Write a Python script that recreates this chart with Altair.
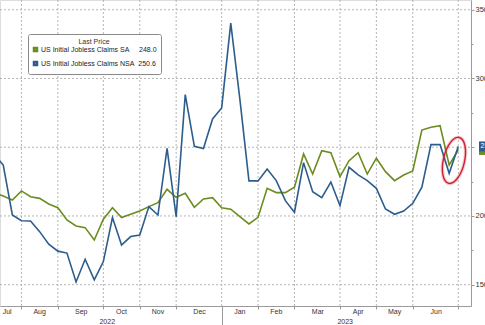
import altair as alt
import pandas as pd

# ---------------- data ----------------
first_week = "2022-07-09"          # weekly, week ending Saturday
n_weeks = 52

sa_values = [217, 214.5, 211.6, 218.2, 214, 212.8, 208.7, 206, 197.1, 192.7,
             191.5, 182.5, 197.6, 206, 198.8, 201.2, 203.6, 206.8, 209.7, 219.4,
             213.6, 216.5, 206.3, 212.4, 213.3, 206, 204.9, 199.5, 194.2, 199,
             220.1, 217, 217, 220.9, 245.1, 230.5, 247.5, 246, 228.6, 240.2,
             246, 230.5, 242, 232.2, 225.7, 229.8, 232.7, 262.5, 264.5, 265.7,
             237.1, 248.0]
nsa_values = [245, 237, 200.7, 196.5, 196.3, 188.6, 179.5, 174.4, 173, 152,
              168.5, 153.5, 166.8, 198.8, 178.9, 185, 186.2, 206.8, 200.7, 249.2,
              199.5, 288.3, 250.6, 249, 270.6, 278.6, 340.3, 285, 225.5, 225.5,
              234.2, 225.7, 211.1, 202.7, 238.8, 217.7, 213.3, 224.7, 207.5, 235.4,
              229.9, 225.7, 220.1, 205.1, 201.2, 203.6, 209.2, 221, 251.9, 251.9,
              231, 250.6]

series_names = ["US Initial Jobless Claims SA", "US Initial Jobless Claims NSA"]
series_colors = ["#6b8c1e", "#2c5d8c"]
last_prices = [248.0, 250.6]
last_price_text = ["248.0", "250.6"]

grid_dates = ["2022-07-30", "2022-08-27", "2022-10-01", "2022-10-29", "2022-11-26",
              "2022-12-31", "2023-01-28", "2023-02-25", "2023-04-01", "2023-04-29",
              "2023-05-27", "2023-07-01"]
month_labels = ["Jul", "Aug", "Sep", "Oct", "Nov", "Dec", "Jan", "Feb", "Mar",
                "Apr", "May", "Jun"]
month_label_dates = ["2022-07-19", "2022-08-13", "2022-09-14", "2022-10-15",
                     "2022-11-12", "2022-12-14", "2023-01-14", "2023-02-11",
                     "2023-03-15", "2023-04-15", "2023-05-13", "2023-06-14"]
year_labels = ["2022", "2023"]
year_label_dates = ["2022-10-04", "2023-04-05"]

y_ticks = [150, 175, 200, 225, 250, 275, 300, 325, 350]
y_grid = [150, 200, 250, 300, 350]
y_tick_labels_shown = [150, 200, 300, 350]   # 250 sits under the last-price tag

ellipse_date = ["2023-06-27T16:00:00Z"]
ellipse_value = [240.4]

x_domain = ["2022-07-13 12:00", "2023-07-10 19:00"]
y_domain = [134.5, 357.1]

# ---------------- tables ----------------
dates = [d.strftime("%Y-%m-%d") for d in pd.date_range(first_week, periods=n_weeks, freq="7D")]
df = pd.concat([
    pd.DataFrame({"date": dates, "value": sa_values, "series": series_names[0]}),
    pd.DataFrame({"date": dates, "value": nsa_values, "series": series_names[1]}),
])

def ms(s):
    return int(pd.Timestamp(s, tz="UTC").value // 10**6)

grid_ms = [ms(d) for d in grid_dates]
x_dom_ms = [ms(d) for d in x_domain]

months_df = pd.DataFrame({"date": month_label_dates, "label": month_labels})
years_df = pd.DataFrame({"date": year_label_dates, "label": year_labels})
tags_df = pd.DataFrame({"value": last_prices, "text": last_price_text,
                        "color": series_colors, "order": [0, 1]})
ell_df = pd.DataFrame({"date": ellipse_date, "value": ellipse_value})
vgrid_df = pd.DataFrame({"date": grid_dates})
hgrid_df = pd.DataFrame({"value": y_grid})

FONT = "Liberation Sans"
GRID = "#b4b4b4"
AXC = "#9a9a9a"

nbsp = "\u00a0"
label_expr = (f"datum.label == '{series_names[0]}' ? '{series_names[0]}{nbsp*5}{last_price_text[0]}' : "
              f"'{series_names[1]}{nbsp*2}{last_price_text[1]}'")
shown = " || ".join(f"datum.value == {v}" for v in y_tick_labels_shown)

x_scale = alt.Scale(type="utc", domain=x_dom_ms, nice=False)
y_scale = alt.Scale(domain=y_domain, nice=False, zero=False)

x_axis = alt.Axis(values=grid_ms, labels=False, title=None, grid=False,
                  domainColor=AXC, tickColor=AXC,
                  tickSize={"condition": {"test": "utcmonth(datum.value) == 11", "value": 19},
                            "value": 3})
y_axis = alt.Axis(orient="right", values=y_ticks, title=None, grid=False,
                  tickSize={"condition": {"test": "datum.value % 50 != 0", "value": 2},
                            "value": 3},
                  labelExpr=f"({shown}) ? datum.label : ''",
                  labelFontSize=7.5, labelColor="#333", labelPadding=1,
                  domainColor=AXC, tickColor=AXC, labelFont=FONT)

X = alt.X("date:T", scale=x_scale, axis=x_axis)
Y = alt.Y("value:Q", scale=y_scale, axis=y_axis)

# dotted grid drawn as rules spanning the plot area
vgrid = alt.Chart(vgrid_df).mark_rule(color=GRID, strokeDash=[2, 2], strokeWidth=1).encode(
    x=X, y=alt.value(0), y2=alt.value(306))
hgrid = alt.Chart(hgrid_df).mark_rule(color=GRID, strokeDash=[2, 2], strokeWidth=1).encode(
    y=Y, x=alt.value(0), x2=alt.value(471))

lines = alt.Chart(df).mark_line(strokeWidth=1.6, clip=True).encode(
    x=X, y=Y,
    color=alt.Color("series:N", scale=alt.Scale(domain=series_names, range=series_colors),
                    legend=alt.Legend(orient="none", legendX=28, legendY=34,
                                      title="Last Price", titleAnchor="middle",
                                      titleFontSize=7, titleFontWeight="normal",
                                      titleColor="#333", titleFont=FONT, titlePadding=1,
                                      labelFontSize=7, labelColor="#222", labelFont=FONT,
                                      labelExpr=label_expr, labelOffset=2,
                                      symbolType="square", symbolSize=9,
                                      symbolStrokeWidth=2.5, rowPadding=1,
                                      fillColor="white", strokeColor="#8a8a8a",
                                      padding=4, cornerRadius=2)),
)

month_text = alt.Chart(months_df).mark_text(fontSize=7, font=FONT, color="#333",
                                            baseline="middle", align="center").encode(
    x=X, y=alt.value(312), text="label:N")

year_text = alt.Chart(years_df).mark_text(fontSize=7, font=FONT, color="#333",
                                          baseline="middle", align="center").encode(
    x=X, y=alt.value(321.5), text="label:N")

tag_shape = "M-1,-0.45 L1,-0.45 L1,0.45 L-1,0.45 Z"
tags = alt.Chart(tags_df).mark_point(shape=tag_shape, filled=True, size=484, opacity=1,
                                     strokeWidth=0).encode(
    x=alt.value(490), y=Y,
    fill=alt.Fill("color:N", scale=None), order="order:Q")

tag_text = alt.Chart(tags_df.iloc[[1]]).mark_text(fontSize=7, font=FONT, color="white",
                                                  align="left", baseline="middle").encode(
    x=alt.value(480.5), y=Y, text="text:N")

ell_shape = ("M0,-1 C0.2485,-1 0.45,-0.5523 0.45,0 C0.45,0.5523 0.2485,1 0,1 "
             "C-0.2485,1 -0.45,0.5523 -0.45,0 C-0.45,-0.5523 -0.2485,-1 0,-1 Z")
ellipse_glow = alt.Chart(ell_df).mark_point(shape=ell_shape, size=2209, angle=13,
                                            filled=False, color="#d9303c",
                                            strokeWidth=3.5, opacity=0.25).encode(x=X, y=Y)
ellipse = alt.Chart(ell_df).mark_point(shape=ell_shape, size=2209, angle=13,
                                       filled=False, color="#cc2233",
                                       strokeWidth=1.4, opacity=1).encode(x=X, y=Y)

chart = alt.layer(vgrid, hgrid, lines, month_text, year_text, ellipse_glow, ellipse,
                  tags, tag_text).properties(
    width=471, height=306,
    autosize=alt.AutoSizeParams(type="none"),
    padding={"left": 0, "top": 0, "right": 14, "bottom": 19},
    background="white",
).configure_view(stroke=None).configure(font=FONT)

chart.save("out.html", embed_options={"renderer": "svg", "actions": False})
